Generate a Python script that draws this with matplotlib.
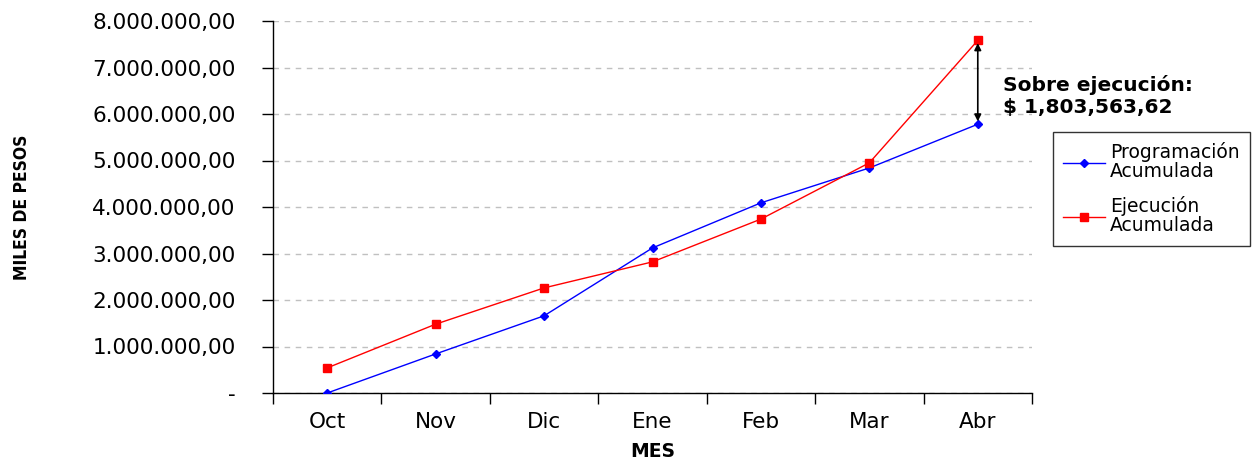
import matplotlib
matplotlib.use("Agg")
import matplotlib.pyplot as plt
from matplotlib.ticker import FuncFormatter, MultipleLocator
import numpy as np

months = ["Oct", "Nov", "Dic", "Ene", "Feb", "Mar", "Abr"]
programacion = [0, 840000, 1660000, 3120000, 4090000, 4840000, 5780000]
ejecucion = [540000, 1480000, 2260000, 2820000, 3740000, 4950000, 7583563.62]
sobre_label = "Sobre ejecución:\n$ 1,803,563,62"

plt.rcParams['font.family'] = ['DejaVu Sans']

fig = plt.figure(figsize=(12.56, 4.62), dpi=100)
ax = fig.add_axes([273/1256, 1-393/462, (1032-273)/1256, (393-21)/462])

x = np.arange(len(months))
ax.plot(x, programacion, color='#0000ff', lw=1, marker='D', ms=4.5, label='Programación\nAcumulada', zorder=3)
ax.plot(x, ejecucion, color='#ff0000', lw=1, marker='s', ms=5.5, label='Ejecución\nAcumulada', zorder=3)

ax.set_xlim(-0.5, len(months) - 0.5)
ax.set_ylim(0, 8000000)
ax.yaxis.set_major_locator(MultipleLocator(1000000))

def fmt(v, pos):
    if v == 0:
        return "-"
    s = f"{v:,.2f}"
    return s.replace(",", "X").replace(".", ",").replace("X", ".")
ax.yaxis.set_major_formatter(FuncFormatter(fmt))
ax.tick_params(axis='y', labelsize=15.5, length=8, width=1, pad=19, colors='black')
ax.set_xticks(x)
ax.set_xticklabels(months)
ax.set_xticks(np.arange(-0.5, len(months)), minor=True)
ax.tick_params(axis='x', which='major', length=0, labelsize=15.5, pad=14)
ax.tick_params(axis='x', which='minor', length=8, width=1)

for s in ['top', 'right']:
    ax.spines[s].set_visible(False)
ax.spines['left'].set_linewidth(1)
ax.spines['bottom'].set_linewidth(1)

ax.grid(axis='y', color='#c0c0c0', ls=(0, (4, 4)), lw=1)
ax.set_axisbelow(True)

ax.set_ylabel("MILES DE PESOS", fontsize=12.5, fontweight='bold', fontstretch='condensed')
ax.yaxis.set_label_coords((31-273)/759, 0.5)
ax.set_xlabel("MES", fontsize=13.5, fontweight='bold')
ax.xaxis.set_label_coords(0.5, -(442-393)/372)

ax.annotate("", xy=(6, ejecucion[6]), xytext=(6, programacion[6]),
            arrowprops=dict(arrowstyle='<|-|>', color='black', lw=1.2, mutation_scale=10,
                            shrinkA=2, shrinkB=2))
fig.text(1003/1256, 1-96/462, sobre_label, fontsize=14.5, fontweight='bold', va='center', ha='left',
         linespacing=1.15)

leg = fig.legend(loc='upper left', bbox_to_anchor=(1053/1256, 1-132/462), fontsize=13.5,
                 frameon=True, fancybox=False, edgecolor='black', handlelength=2.2,
                 labelspacing=0.8, borderpad=0.55, handletextpad=0.3, borderaxespad=0)
leg.get_frame().set_linewidth(1)
for t in leg.get_texts():
    t.set_linespacing(1.0)

fig.savefig("out.png", dpi=100)
